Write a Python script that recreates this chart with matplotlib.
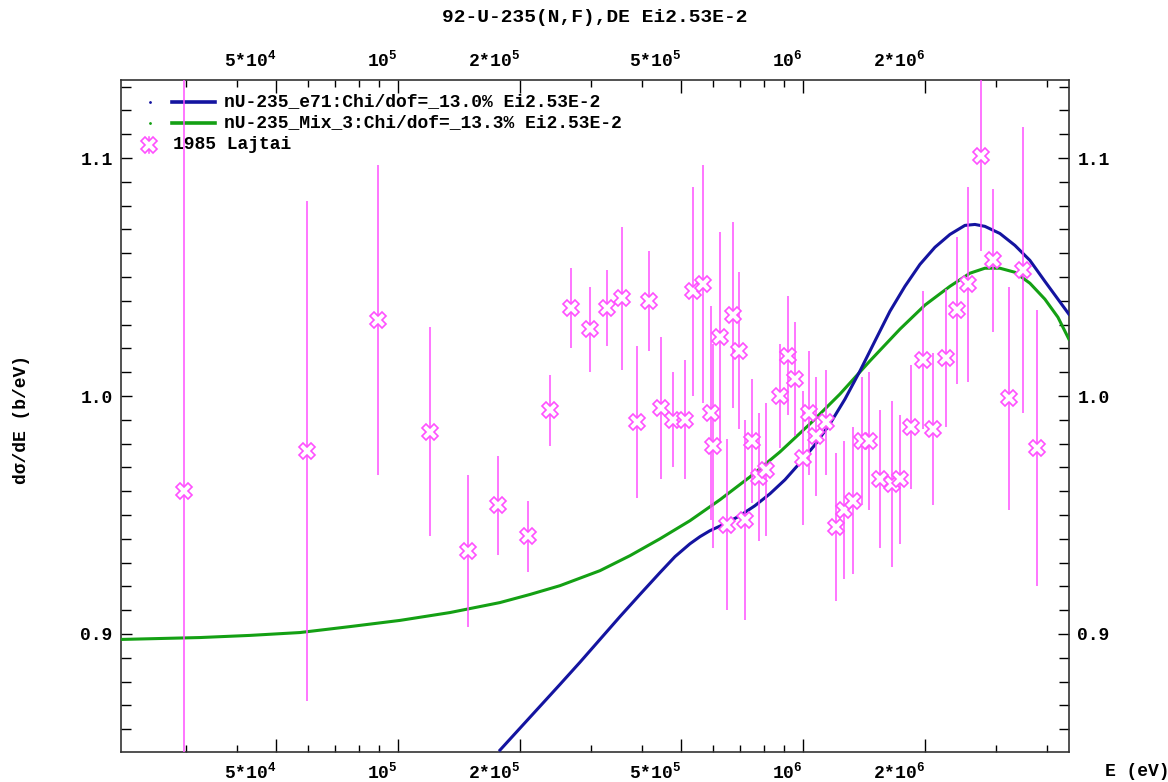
import matplotlib
matplotlib.use("Agg")
import matplotlib.pyplot as plt
from matplotlib.ticker import FixedLocator, LogLocator, MultipleLocator, NullFormatter

# ---- data ----
# nU-235_e71 evaluation
e71_energy = [1.786e5, 2.001e5, 2.242e5, 2.512e5, 2.814e5, 3.153e5, 3.533e5, 3.958e5,
              4.436e5, 4.831e5, 5.260e5, 5.569e5, 5.894e5, 6.418e5, 6.988e5, 7.611e5,
              8.288e5, 9.028e5, 9.831e5, 1.071e6, 1.166e6, 1.270e6, 1.383e6, 1.506e6,
              1.640e6, 1.786e6, 1.945e6, 2.118e6, 2.307e6, 2.512e6, 2.659e6, 2.814e6,
              3.065e6, 3.338e6, 3.635e6, 3.958e6, 4.263e6, 4.537e6]
e71_value = [0.8512, 0.8604, 0.8696, 0.8788, 0.8881, 0.8977, 0.9073, 0.9166,
             0.9258, 0.9325, 0.9379, 0.9409, 0.9434, 0.9463, 0.9497, 0.9539,
             0.9589, 0.9648, 0.9719, 0.9795, 0.9883, 0.9987, 1.0105, 1.0231,
             1.0356, 1.0461, 1.0553, 1.0625, 1.0679, 1.0717, 1.0721, 1.0713,
             1.0683, 1.0633, 1.0570, 1.0482, 1.0407, 1.0344]

# nU-235_Mix_3 evaluation
mix3_energy = [2.070e4, 3.245e4, 4.311e4, 5.728e4, 7.611e4, 1.011e5, 1.344e5, 1.786e5,
               2.118e5, 2.512e5, 3.153e5, 3.740e5, 4.436e5, 5.260e5, 6.238e5, 7.398e5,
               8.774e5, 1.041e6, 1.234e6, 1.463e6, 1.736e6, 2.001e6, 2.307e6, 2.584e6,
               2.814e6, 3.065e6, 3.338e6, 3.635e6, 3.958e6, 4.263e6, 4.537e6]
mix3_value = [0.8977, 0.8985, 0.8994, 0.9006, 0.9031, 0.9057, 0.9090, 0.9132,
              0.9166, 0.9203, 0.9266, 0.9329, 0.9400, 0.9476, 0.9564, 0.9660,
              0.9765, 0.9883, 1.0008, 1.0147, 1.0281, 1.0382, 1.0461, 1.0516,
              1.0537, 1.0537, 1.0520, 1.0474, 1.0407, 1.0331, 1.0239]

# 1985 Lajtai measurement
lajtai_energy = [2.96e4, 5.96e4, 8.93e4, 1.20e5, 1.49e5, 1.77e5, 2.09e5, 2.37e5, 2.67e5,
                 2.98e5, 3.28e5, 3.57e5, 3.89e5, 4.17e5, 4.46e5, 4.77e5, 5.11e5, 5.35e5,
                 5.66e5, 5.93e5, 6.00e5, 6.24e5, 6.49e5, 6.72e5, 6.95e5, 7.19e5, 7.48e5,
                 7.79e5, 8.11e5, 8.78e5, 9.18e5, 9.55e5, 1.00e6, 1.035e6, 1.08e6, 1.14e6,
                 1.21e6, 1.26e6, 1.33e6, 1.40e6, 1.46e6, 1.55e6, 1.66e6, 1.74e6, 1.85e6,
                 1.98e6, 2.10e6, 2.25e6, 2.40e6, 2.55e6, 2.75e6, 2.95e6, 3.23e6, 3.49e6,
                 3.78e6]
lajtai_value = [0.960, 0.977, 1.032, 0.985, 0.935, 0.954, 0.941, 0.994, 1.037,
                1.028, 1.037, 1.041, 0.989, 1.040, 0.995, 0.990, 0.990, 1.044,
                1.047, 0.993, 0.979, 1.025, 0.946, 1.034, 1.019, 0.948, 0.981,
                0.966, 0.969, 1.000, 1.017, 1.007, 0.974, 0.993, 0.983, 0.989,
                0.945, 0.952, 0.956, 0.981, 0.981, 0.965, 0.963, 0.965, 0.987,
                1.015, 0.986, 1.016, 1.036, 1.047, 1.101, 1.057, 0.999, 1.053,
                0.978]
lajtai_error = [0.200, 0.105, 0.065, 0.044, 0.032, 0.021, 0.015, 0.015, 0.017,
                0.018, 0.016, 0.030, 0.032, 0.021, 0.030, 0.020, 0.025, 0.044,
                0.050, 0.045, 0.043, 0.044, 0.036, 0.039, 0.033, 0.042, 0.026,
                0.027, 0.028, 0.022, 0.025, 0.024, 0.028, 0.026, 0.025, 0.022,
                0.031, 0.029, 0.031, 0.027, 0.029, 0.029, 0.035, 0.027, 0.026,
                0.029, 0.032, 0.029, 0.031, 0.041, 0.040, 0.030, 0.047, 0.060,
                0.058]

xtick_values = [5e4, 1e5, 2e5, 5e5, 1e6, 2e6]
xtick_labels = [r"5*10$^{\mathregular{4}}$", r"10$^{\mathregular{5}}$",
                r"2*10$^{\mathregular{5}}$", r"5*10$^{\mathregular{5}}$",
                r"10$^{\mathregular{6}}$", r"2*10$^{\mathregular{6}}$"]
ytick_values = [0.9, 1.0, 1.1]
ytick_labels = ["0.9", "1.0", "1.1"]

legend_labels = ["nU-235_e71:Chi/dof=_13.0% Ei2.53E-2",
                 "nU-235_Mix_3:Chi/dof=_13.3% Ei2.53E-2",
                 "1985 Lajtai"]

BLUE = "#1414a0"
GREEN = "#14a014"
MAGENTA = "#ff50ff"

plt.rcParams["font.family"] = ["Liberation Mono", "DejaVu Sans Mono"]
plt.rcParams["font.weight"] = "bold"
plt.rcParams["font.size"] = 13

fig = plt.figure(figsize=(11.68, 7.82), dpi=100)
ax = fig.add_axes([121 / 1168, 1 - 752 / 782, 948 / 1168, 672 / 782])

ax.plot(mix3_energy, mix3_value, color=GREEN, lw=2.2, zorder=3)
ax.plot(e71_energy, e71_value, color=BLUE, lw=2.2, zorder=3)
ax.errorbar(lajtai_energy, lajtai_value, yerr=lajtai_error, fmt="none",
            ecolor=MAGENTA, elinewidth=1.1, capsize=0, zorder=4)
ax.plot(lajtai_energy, lajtai_value, ls="none", marker="X", ms=11,
        mfc="white", mec=MAGENTA, mew=1.2, zorder=5)

ax.set_xscale("log")
ax.set_xlim(2.07e4, 4.54e6)
ax.set_ylim(0.8504, 1.1328)

ax.xaxis.set_major_locator(FixedLocator(xtick_values))
ax.set_xticklabels(xtick_labels)
ax.xaxis.set_minor_locator(LogLocator(base=10, subs=range(2, 10)))
ax.xaxis.set_minor_formatter(NullFormatter())
ax.set_yticks(ytick_values)
ax.set_yticklabels(ytick_labels)
ax.yaxis.set_minor_locator(MultipleLocator(0.01))

ax.tick_params(axis="both", which="both", direction="in", top=True, right=True,
               labeltop=True, labelright=True, color="black", width=1.0)
ax.tick_params(axis="x", which="major", length=9.5, pad=7)
ax.tick_params(axis="x", which="minor", length=5)
ax.tick_params(axis="y", which="major", length=8, pad=6)
ax.tick_params(axis="y", which="minor", length=7)
for t in ax.xaxis.get_major_ticks():
    t.label1.set_horizontalalignment("right")
    t.label2.set_horizontalalignment("right")
for sp in ax.spines.values():
    sp.set_linewidth(1.2)
    sp.set_color("#333333")

# legend drawn in axes space, as in the original layout
tr = ax.transAxes
rows = [0.9673, 0.9360, 0.9033]
for y, col, lab in zip(rows[:2], [BLUE, GREEN], legend_labels[:2]):
    ax.plot([0.0306], [y], ls="none", marker=".", ms=2, color=col, transform=tr)
    ax.plot([0.0538, 0.0992], [y, y], color=col, lw=2.6, transform=tr)
    ax.text(0.1087, y, lab, transform=tr, va="center", ha="left", fontsize=13)
ax.plot([0.0296], [rows[2]], ls="none", marker="X", ms=11, mfc="white",
        mec=MAGENTA, mew=1.2, transform=tr)
ax.plot([0.0296, 0.0296], [rows[2] - 0.012, rows[2] + 0.012], color=MAGENTA,
        lw=1.1, transform=tr, zorder=1)
ax.text(0.0549, rows[2], legend_labels[2], transform=tr, va="center", ha="left",
        fontsize=13)

fig.text(595 / 1168, 1 - 17 / 782, "92-U-235(N,F),DE Ei2.53E-2", ha="center",
         va="center", fontsize=14)
fig.text(22 / 1168, 1 - 420 / 782, "d\u03c3/dE (b/eV)", rotation=90, ha="center",
         va="center", fontsize=13)
fig.text(1137 / 1168, 1 - 771 / 782, "E (eV)", ha="center", va="center", fontsize=13)

fig.savefig("out.png", dpi=100)
